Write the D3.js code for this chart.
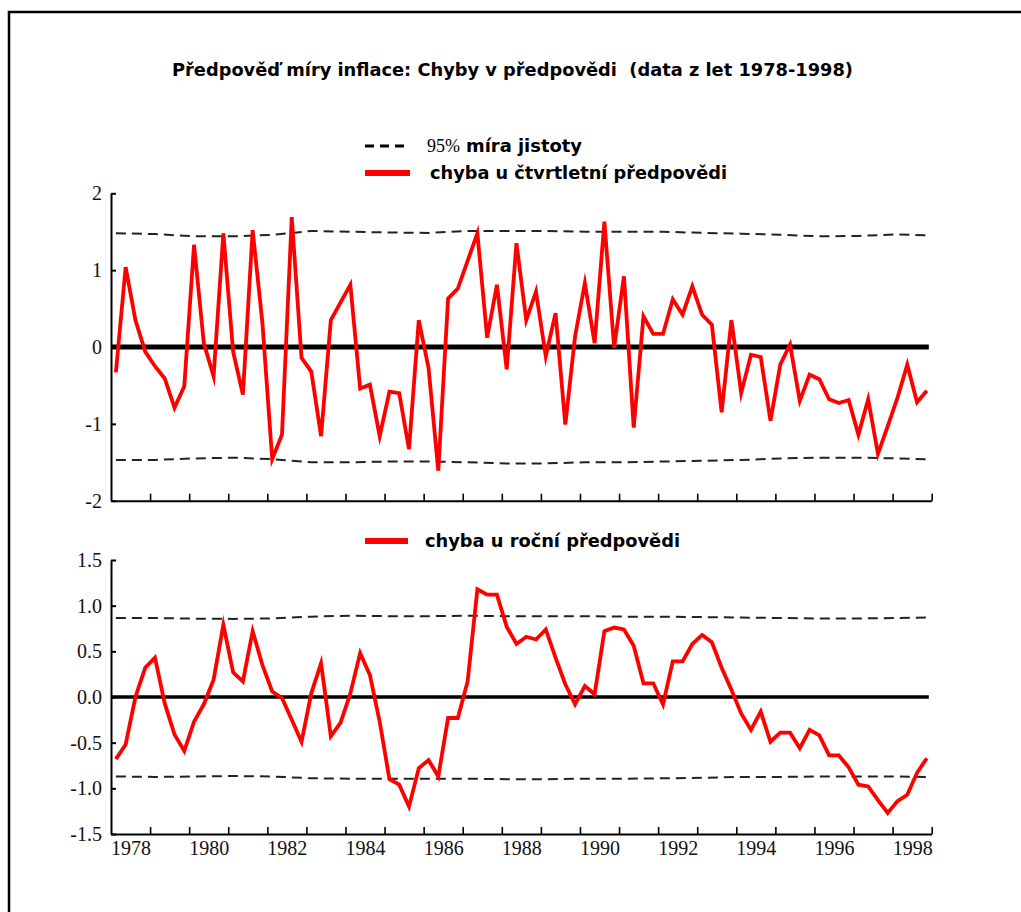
<!DOCTYPE html>
<html>
<head>
<meta charset="utf-8">
<script src="https://cdn.jsdelivr.net/npm/d3@7/dist/d3.min.js"></script>
<style>
  html, body { margin: 0; padding: 0; background: #fff; }
  svg { display: block; }
  text { white-space: pre; }
</style>
</head>
<body>
<svg id="chart" width="1021" height="912"></svg>
<script>
// Quarterly inflation forecast errors, 1978Q1 – 1998Q4
const quarterlyError = [
  -0.33, 1.04, 0.35, -0.06, -0.25, -0.41, -0.79, -0.51,
  1.33, 0.05, -0.38, 1.48, -0.06, -0.62, 1.52, 0.31,
  -1.46, -1.14, 1.69, -0.14, -0.32, -1.16, 0.35, 0.58,
  0.81, -0.54, -0.49, -1.16, -0.58, -0.60, -1.33, 0.35,
  -0.27, -1.61, 0.63, 0.76, 1.12, 1.48, 0.12, 0.81,
  -0.29, 1.35, 0.35, 0.72, -0.12, 0.44, -1.01, 0.14,
  0.83, 0.05, 1.63, -0.01, 0.92, -1.05, 0.40, 0.17,
  0.17, 0.62, 0.42, 0.79, 0.42, 0.29, -0.85, 0.35,
  -0.60, -0.10, -0.13, -0.96, -0.23, 0.03, -0.70, -0.36,
  -0.42, -0.68, -0.73, -0.69, -1.14, -0.68, -1.39, -1.03,
  -0.66, -0.23, -0.72, -0.57
];

// Annual (four-quarter-ahead) inflation forecast errors, 1978Q1 – 1998Q4
const annualError = [
  -0.68, -0.52, 0.00, 0.32, 0.43, -0.07, -0.41, -0.59,
  -0.27, -0.08, 0.19, 0.79, 0.27, 0.17, 0.72, 0.35,
  0.06, -0.01, -0.25, -0.49, 0.04, 0.37, -0.43, -0.28,
  0.04, 0.48, 0.24, -0.27, -0.90, -0.96, -1.20, -0.78,
  -0.69, -0.87, -0.23, -0.23, 0.17, 1.18, 1.12, 1.12,
  0.77, 0.58, 0.66, 0.63, 0.74, 0.43, 0.14, -0.08,
  0.12, 0.03, 0.72, 0.76, 0.74, 0.56, 0.15, 0.15,
  -0.08, 0.39, 0.39, 0.58, 0.68, 0.60, 0.32, 0.08,
  -0.18, -0.36, -0.16, -0.49, -0.39, -0.39, -0.56, -0.36,
  -0.42, -0.64, -0.64, -0.77, -0.96, -0.98, -1.13, -1.27,
  -1.14, -1.07, -0.83, -0.67
];

// 95% confidence bands, read at the start of each year (plus the last quarter)
const bandKnots = [
  "1978Q1", "1979Q1", "1980Q1", "1981Q1", "1982Q1", "1983Q1", "1984Q1", "1985Q1",
  "1986Q1", "1987Q1", "1988Q1", "1989Q1", "1990Q1", "1991Q1", "1992Q1", "1993Q1",
  "1994Q1", "1995Q1", "1996Q1", "1997Q1", "1998Q1", "1998Q4"
];
const quarterlyUpper = [
  1.48, 1.47, 1.44, 1.44, 1.46, 1.51, 1.50, 1.49, 1.485, 1.51, 1.51,
  1.51, 1.50, 1.50, 1.50, 1.485, 1.475, 1.46, 1.44, 1.445, 1.465, 1.455
];
const quarterlyLower = [
  -1.47, -1.47, -1.45, -1.44, -1.46, -1.50, -1.50, -1.49, -1.49, -1.50, -1.515,
  -1.515, -1.50, -1.50, -1.49, -1.48, -1.47, -1.45, -1.44, -1.44, -1.45, -1.46
];
const annualUpper = [
  0.865, 0.865, 0.858, 0.855, 0.86, 0.88, 0.89, 0.885, 0.885, 0.89, 0.885,
  0.885, 0.885, 0.88, 0.88, 0.875, 0.87, 0.865, 0.86, 0.86, 0.865, 0.87
];
const annualLower = [
  -0.87, -0.875, -0.87, -0.865, -0.87, -0.89, -0.895, -0.895, -0.895, -0.895, -0.90,
  -0.90, -0.895, -0.895, -0.89, -0.885, -0.875, -0.875, -0.87, -0.87, -0.87, -0.875
];

const quarterTicksTop = [-2, -1, 0, 1, 2];
const annualTicks = [-1.5, -1.0, -0.5, 0.0, 0.5, 1.0, 1.5];
const yearLabels = [1978, 1980, 1982, 1984, 1986, 1988, 1990, 1992, 1994, 1996, 1998];

const titleText = "Předpověď míry inflace: Chyby v předpovědi  (data z let 1978-1998)";
const legendBand = ["95%", "míra jistoty"];
const legendQuarterly = "chyba u čtvrtletní předpovědi";
const legendAnnual = "chyba u roční předpovědi";

// quarter label -> position on a continuous year axis (centre of the quarter)
const firstYear = 1978;
const quarters = quarterlyError.map((_, i) => `${firstYear + Math.floor(i / 4)}Q${(i % 4) + 1}`);
const qTime = q => +q.slice(0, 4) + (+q.slice(5) - 0.5) / 4;

const svg = d3.select("#chart");
const sansFont = "'DejaVu Sans', sans-serif";
const serifFont = "'Liberation Serif', 'Times New Roman', serif";

// page frame
svg.append("rect")
  .attr("x", 9).attr("y", 12).attr("width", 1040).attr("height", 930)
  .attr("fill", "none").attr("stroke", "#000").attr("stroke-width", 2.5);

// title
svg.append("text")
  .attr("x", 172).attr("y", 76)
  .attr("font-family", sansFont).attr("font-size", 17).attr("font-weight", "bold")
  .attr("textLength", 681).attr("lengthAdjust", "spacingAndGlyphs")
  .text(titleText);

const x = d3.scaleLinear().domain([1978, 1999]).range([111, 931.7]);

const minusFix = f => d => f(d).replace("\u2212", "-");

function drawPanel(cfg) {
  const y = d3.scaleLinear().domain(cfg.domain).range(cfg.range);
  const g = svg.append("g");

  // y axis, ticks pointing inward
  g.append("g")
    .attr("transform", `translate(${x.range()[0]},0)`)
    .call(d3.axisLeft(y).tickValues(cfg.ticks).tickFormat(minusFix(cfg.format))
      .tickSizeInner(-5).tickSizeOuter(0).tickPadding(9))
    .call(a => a.select(".domain").attr("stroke-width", 2))
    .call(a => a.selectAll(".tick line").attr("stroke-width", 2))
    .call(a => a.selectAll("text").attr("font-family", serifFont).attr("font-size", 20).attr("fill", "#111"));

  // x axis, yearly ticks pointing inward
  g.append("g")
    .attr("transform", `translate(0,${cfg.range[0]})`)
    .call(d3.axisBottom(x).tickValues(d3.range(1979, 2000)).tickFormat("")
      .tickSizeInner(-7).tickSizeOuter(0))
    .call(a => a.select(".domain").attr("stroke-width", 2))
    .call(a => a.selectAll(".tick line").attr("stroke-width", 1.6));

  if (cfg.labels) {
    g.append("g")
      .attr("transform", `translate(0,${cfg.range[0]})`)
      .call(d3.axisBottom(x).tickValues(yearLabels.map(v => v + 0.5))
        .tickFormat(d => String(Math.floor(d))).tickSize(0).tickPadding(7))
      .call(a => a.select(".domain").remove())
      .call(a => a.selectAll("text").attr("font-family", serifFont).attr("font-size", 20).attr("fill", "#111"));
  }

  // zero line
  g.append("line")
    .attr("x1", x(1978)).attr("x2", x(qTime("1998Q4")) + 2)
    .attr("y1", y(0)).attr("y2", y(0))
    .attr("stroke", "#000").attr("stroke-width", cfg.zeroWidth);

  // confidence band lines
  const bandLine = d3.line().x((d, i) => x(qTime(bandKnots[i]))).y(d => y(d));
  [cfg.upper, cfg.lower].forEach(vals => {
    g.append("path").datum(vals)
      .attr("d", bandLine)
      .attr("fill", "none").attr("stroke", "#222").attr("stroke-width", 2)
      .attr("stroke-dasharray", "10,6");
  });

  // forecast error series
  g.append("path").datum(cfg.values)
    .attr("d", d3.line().x((d, i) => x(qTime(quarters[i]))).y(d => y(d)))
    .attr("fill", "none").attr("stroke", "#ff0000").attr("stroke-width", 3.8)
    .attr("stroke-linejoin", "miter").attr("stroke-miterlimit", 6);
}

drawPanel({
  values: quarterlyError, upper: quarterlyUpper, lower: quarterlyLower,
  domain: [-2, 2], range: [500.7, 193.3], ticks: quarterTicksTop,
  format: d3.format("d"), zeroWidth: 5, labels: false
});
drawPanel({
  values: annualError, upper: annualUpper, lower: annualLower,
  domain: [-1.5, 1.5], range: [834, 560], ticks: annualTicks,
  format: d3.format(".1f"), zeroWidth: 3.5, labels: true
});

// legends
const legend = svg.append("g");
legend.append("line")
  .attr("x1", 365).attr("x2", 404).attr("y1", 146).attr("y2", 146)
  .attr("stroke", "#000").attr("stroke-width", 3).attr("stroke-dasharray", "9,6");
legend.append("text")
  .attr("x", 427).attr("y", 152)
  .attr("font-family", serifFont).attr("font-size", 18)
  .text(legendBand[0]);
legend.append("text")
  .attr("x", 466).attr("y", 152)
  .attr("font-family", sansFont).attr("font-size", 17).attr("font-weight", "bold")
  .attr("textLength", 116).attr("lengthAdjust", "spacingAndGlyphs")
  .text(legendBand[1]);

legend.append("rect")
  .attr("x", 365).attr("y", 170).attr("width", 45).attr("height", 6).attr("fill", "#ff0000");
legend.append("text")
  .attr("x", 430).attr("y", 179)
  .attr("font-family", sansFont).attr("font-size", 17).attr("font-weight", "bold")
  .attr("textLength", 297).attr("lengthAdjust", "spacingAndGlyphs")
  .text(legendQuarterly);

legend.append("rect")
  .attr("x", 365).attr("y", 538).attr("width", 43).attr("height", 6).attr("fill", "#ff0000");
legend.append("text")
  .attr("x", 425).attr("y", 547)
  .attr("font-family", sansFont).attr("font-size", 17).attr("font-weight", "bold")
  .attr("textLength", 255).attr("lengthAdjust", "spacingAndGlyphs")
  .text(legendAnnual);
</script>
</body>
</html>
